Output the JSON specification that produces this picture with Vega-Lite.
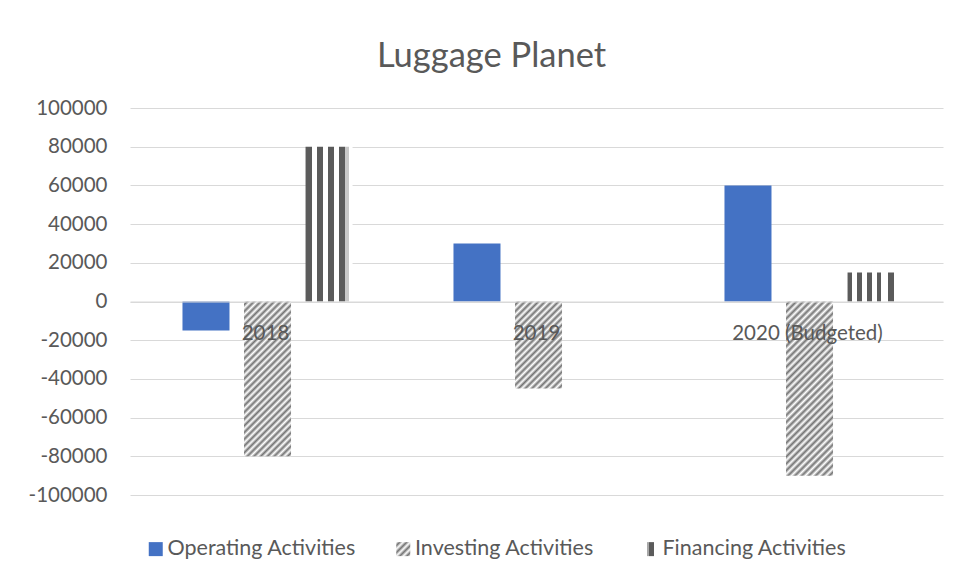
{
"$schema": "https://vega.github.io/schema/vega-lite/v6.json",
"width": 813, "height": 387,
"autosize": {"type": "none"},
"padding": {"left": 130, "top": 108, "right": 16, "bottom": 85},
"background": "#ffffff",
"config": {"view": {"stroke": null}, "font": "Lato"},
"title": {"text": "Luggage Planet", "fontSize": 34.5, "fontWeight": "normal", "color": "#595959", "font": "Lato", "anchor": "middle", "frame": "group", "dx": -45, "baseline": "alphabetic", "offset": -3},
"data": {"values": [
{"year": "2018", "series": "Operating Activities", "value": -15000},
{"year": "2018", "series": "Investing Activities", "value": -80000},
{"year": "2018", "series": "Financing Activities", "value": 80000},
{"year": "2019", "series": "Operating Activities", "value": 30000},
{"year": "2019", "series": "Investing Activities", "value": -45000},
{"year": "2019", "series": "Financing Activities", "value": 0},
{"year": "2020 (Budgeted)", "series": "Operating Activities", "value": 60000},
{"year": "2020 (Budgeted)", "series": "Investing Activities", "value": -90000},
{"year": "2020 (Budgeted)", "series": "Financing Activities", "value": 15000}
]},
"mark": {"type": "bar"},
"encoding": {
"x": {"field": "year", "type": "nominal", "sort": ["2018", "2019", "2020 (Budgeted)"], "scale": {"paddingInner": 0, "paddingOuter": 0},
 "axis": {"title": null, "orient": "bottom", "offset": -193.5, "labelAngle": 0, "ticks": false, "tickSize": 0, "domain": true, "domainColor": "#D9D9D9", "domainWidth": 1, "labelPadding": 38, "labelBaseline": "alphabetic", "labelFontSize": 20.5, "labelColor": "#595959", "labelLimit": 400, "labelOverlap": false, "labelFlush": false, "grid": false, "zindex": 1}},
"xOffset": {"field": "series", "type": "nominal", "sort": ["Operating Activities", "Investing Activities", "Financing Activities"], "scale": {"paddingInner": 0.236, "paddingOuter": 0.82, "align": 0.52}},
"y": {"field": "value", "type": "quantitative", "scale": {"domain": [-100000, 100000], "nice": false},
 "axis": {"title": null, "values": [-100000, -80000, -60000, -40000, -20000, 0, 20000, 40000, 60000, 80000, 100000], "labelExpr": "'' + datum.value", "ticks": false, "tickSize": 0, "domain": false, "labelPadding": 23, "labelFontSize": 20.5, "labelColor": "#595959", "gridColor": "#D9D9D9", "gridWidth": 1, "zindex": 0}},
"opacity": {"field": "series", "type": "nominal",
 "scale": {"domain": ["Operating Activities", "Investing Activities", "Financing Activities"], "range": [1, 1]},
 "legend": {"title": null, "orient": "none", "legendX": 15, "legendY": 430, "direction": "horizontal", "symbolType": "square", "symbolSize": 196, "symbolStrokeWidth": 0, "labelFontSize": 21.5, "labelColor": "#595959", "labelOffset": 1, "labelLimit": 500, "columnPadding": 36.5, "gridAlign": "all", "padding": 0,
  "encoding": {"symbols": {"stroke": {"value": "transparent"}, "opacity": {"value": 1}, "fill": {"condition": [
   {"test": "datum.value === 'Investing Activities'", "value": {"gradient": "linear", "x1": 0, "y1": 0, "x2": 1, "y2": 1, "stops": [
    {"offset": 0, "color": "#ffffff"}, {"offset": 0.125, "color": "#737373"}, {"offset": 0.25, "color": "#ffffff"}, {"offset": 0.375, "color": "#737373"}, {"offset": 0.5, "color": "#ffffff"}, {"offset": 0.625, "color": "#737373"}, {"offset": 0.75, "color": "#ffffff"}, {"offset": 0.875, "color": "#737373"}, {"offset": 1, "color": "#ffffff"}]}},
   {"test": "datum.value === 'Financing Activities'", "value": {"gradient": "linear", "x1": 0, "y1": 0, "x2": 1, "y2": 0, "stops": [
    {"offset": 0, "color": "#ffffff"}, {"offset": 0.2, "color": "#ffffff"}, {"offset": 0.2, "color": "#a8a8a8"}, {"offset": 0.36, "color": "#a8a8a8"}, {"offset": 0.36, "color": "#5b5b5b"}, {"offset": 0.72, "color": "#5b5b5b"}, {"offset": 0.72, "color": "#ffffff"}, {"offset": 1, "color": "#ffffff"}]}}],
   "value": "#4472C4"}}}}},
"fill": {
 "condition": [
  {"test": "datum.series === 'Investing Activities' && datum.year === '2018'", "value": {"gradient": "linear", "x1": 0, "y1": 0, "x2": 0.3624, "y2": 1.1937, "stops": [
   {"offset": 0, "color": "#ffffff"}, {"offset": 0.0167, "color": "#737373"}, {"offset": 0.0333, "color": "#ffffff"}, {"offset": 0.05, "color": "#737373"}, {"offset": 0.0667, "color": "#ffffff"}, {"offset": 0.0833, "color": "#737373"}, {"offset": 0.1, "color": "#ffffff"}, {"offset": 0.1167, "color": "#737373"}, {"offset": 0.1333, "color": "#ffffff"}, {"offset": 0.15, "color": "#737373"}, {"offset": 0.1667, "color": "#ffffff"}, {"offset": 0.1833, "color": "#737373"}, {"offset": 0.2, "color": "#ffffff"}, {"offset": 0.2167, "color": "#737373"}, {"offset": 0.2333, "color": "#ffffff"}, {"offset": 0.25, "color": "#737373"}, {"offset": 0.2667, "color": "#ffffff"}, {"offset": 0.2833, "color": "#737373"}, {"offset": 0.3, "color": "#ffffff"}, {"offset": 0.3167, "color": "#737373"}, {"offset": 0.3333, "color": "#ffffff"}, {"offset": 0.35, "color": "#737373"}, {"offset": 0.3667, "color": "#ffffff"}, {"offset": 0.3833, "color": "#737373"}, {"offset": 0.4, "color": "#ffffff"}, {"offset": 0.4167, "color": "#737373"}, {"offset": 0.4333, "color": "#ffffff"}, {"offset": 0.45, "color": "#737373"}, {"offset": 0.4667, "color": "#ffffff"}, {"offset": 0.4833, "color": "#737373"}, {"offset": 0.5, "color": "#ffffff"}, {"offset": 0.5167, "color": "#737373"}, {"offset": 0.5333, "color": "#ffffff"}, {"offset": 0.55, "color": "#737373"}, {"offset": 0.5667, "color": "#ffffff"}, {"offset": 0.5833, "color": "#737373"}, {"offset": 0.6, "color": "#ffffff"}, {"offset": 0.6167, "color": "#737373"}, {"offset": 0.6333, "color": "#ffffff"}, {"offset": 0.65, "color": "#737373"}, {"offset": 0.6667, "color": "#ffffff"}, {"offset": 0.6833, "color": "#737373"}, {"offset": 0.7, "color": "#ffffff"}, {"offset": 0.7167, "color": "#737373"}, {"offset": 0.7333, "color": "#ffffff"}, {"offset": 0.75, "color": "#737373"}, {"offset": 0.7667, "color": "#ffffff"}, {"offset": 0.7833, "color": "#737373"}, {"offset": 0.8, "color": "#ffffff"}, {"offset": 0.8167, "color": "#737373"}, {"offset": 0.8333, "color": "#ffffff"}, {"offset": 0.85, "color": "#737373"}, {"offset": 0.8667, "color": "#ffffff"}, {"offset": 0.8833, "color": "#737373"}, {"offset": 0.9, "color": "#ffffff"}, {"offset": 0.9167, "color": "#737373"}, {"offset": 0.9333, "color": "#ffffff"}, {"offset": 0.95, "color": "#737373"}, {"offset": 0.9667, "color": "#ffffff"}, {"offset": 0.9833, "color": "#737373"}, {"offset": 1, "color": "#ffffff"}]}},
  {"test": "datum.series === 'Investing Activities' && datum.year === '2019'", "value": {"gradient": "linear", "x1": 0, "y1": 0, "x2": 0.6435, "y2": 1.1924, "stops": [
   {"offset": 0, "color": "#ffffff"}, {"offset": 0.025, "color": "#737373"}, {"offset": 0.05, "color": "#ffffff"}, {"offset": 0.075, "color": "#737373"}, {"offset": 0.1, "color": "#ffffff"}, {"offset": 0.125, "color": "#737373"}, {"offset": 0.15, "color": "#ffffff"}, {"offset": 0.175, "color": "#737373"}, {"offset": 0.2, "color": "#ffffff"}, {"offset": 0.225, "color": "#737373"}, {"offset": 0.25, "color": "#ffffff"}, {"offset": 0.275, "color": "#737373"}, {"offset": 0.3, "color": "#ffffff"}, {"offset": 0.325, "color": "#737373"}, {"offset": 0.35, "color": "#ffffff"}, {"offset": 0.375, "color": "#737373"}, {"offset": 0.4, "color": "#ffffff"}, {"offset": 0.425, "color": "#737373"}, {"offset": 0.45, "color": "#ffffff"}, {"offset": 0.475, "color": "#737373"}, {"offset": 0.5, "color": "#ffffff"}, {"offset": 0.525, "color": "#737373"}, {"offset": 0.55, "color": "#ffffff"}, {"offset": 0.575, "color": "#737373"}, {"offset": 0.6, "color": "#ffffff"}, {"offset": 0.625, "color": "#737373"}, {"offset": 0.65, "color": "#ffffff"}, {"offset": 0.675, "color": "#737373"}, {"offset": 0.7, "color": "#ffffff"}, {"offset": 0.725, "color": "#737373"}, {"offset": 0.75, "color": "#ffffff"}, {"offset": 0.775, "color": "#737373"}, {"offset": 0.8, "color": "#ffffff"}, {"offset": 0.825, "color": "#737373"}, {"offset": 0.85, "color": "#ffffff"}, {"offset": 0.875, "color": "#737373"}, {"offset": 0.9, "color": "#ffffff"}, {"offset": 0.925, "color": "#737373"}, {"offset": 0.95, "color": "#ffffff"}, {"offset": 0.975, "color": "#737373"}, {"offset": 1, "color": "#ffffff"}]}},
  {"test": "datum.series === 'Investing Activities' && datum.year === '2020 (Budgeted)'", "value": {"gradient": "linear", "x1": 0, "y1": 0, "x2": 0.3194, "y2": 1.1834, "stops": [
   {"offset": 0, "color": "#ffffff"}, {"offset": 0.0156, "color": "#737373"}, {"offset": 0.0313, "color": "#ffffff"}, {"offset": 0.0469, "color": "#737373"}, {"offset": 0.0625, "color": "#ffffff"}, {"offset": 0.0781, "color": "#737373"}, {"offset": 0.0938, "color": "#ffffff"}, {"offset": 0.1094, "color": "#737373"}, {"offset": 0.125, "color": "#ffffff"}, {"offset": 0.1406, "color": "#737373"}, {"offset": 0.1563, "color": "#ffffff"}, {"offset": 0.1719, "color": "#737373"}, {"offset": 0.1875, "color": "#ffffff"}, {"offset": 0.2031, "color": "#737373"}, {"offset": 0.2188, "color": "#ffffff"}, {"offset": 0.2344, "color": "#737373"}, {"offset": 0.25, "color": "#ffffff"}, {"offset": 0.2656, "color": "#737373"}, {"offset": 0.2813, "color": "#ffffff"}, {"offset": 0.2969, "color": "#737373"}, {"offset": 0.3125, "color": "#ffffff"}, {"offset": 0.3281, "color": "#737373"}, {"offset": 0.3438, "color": "#ffffff"}, {"offset": 0.3594, "color": "#737373"}, {"offset": 0.375, "color": "#ffffff"}, {"offset": 0.3906, "color": "#737373"}, {"offset": 0.4063, "color": "#ffffff"}, {"offset": 0.4219, "color": "#737373"}, {"offset": 0.4375, "color": "#ffffff"}, {"offset": 0.4531, "color": "#737373"}, {"offset": 0.4688, "color": "#ffffff"}, {"offset": 0.4844, "color": "#737373"}, {"offset": 0.5, "color": "#ffffff"}, {"offset": 0.5156, "color": "#737373"}, {"offset": 0.5313, "color": "#ffffff"}, {"offset": 0.5469, "color": "#737373"}, {"offset": 0.5625, "color": "#ffffff"}, {"offset": 0.5781, "color": "#737373"}, {"offset": 0.5938, "color": "#ffffff"}, {"offset": 0.6094, "color": "#737373"}, {"offset": 0.625, "color": "#ffffff"}, {"offset": 0.6406, "color": "#737373"}, {"offset": 0.6563, "color": "#ffffff"}, {"offset": 0.6719, "color": "#737373"}, {"offset": 0.6875, "color": "#ffffff"}, {"offset": 0.7031, "color": "#737373"}, {"offset": 0.7188, "color": "#ffffff"}, {"offset": 0.7344, "color": "#737373"}, {"offset": 0.75, "color": "#ffffff"}, {"offset": 0.7656, "color": "#737373"}, {"offset": 0.7813, "color": "#ffffff"}, {"offset": 0.7969, "color": "#737373"}, {"offset": 0.8125, "color": "#ffffff"}, {"offset": 0.8281, "color": "#737373"}, {"offset": 0.8438, "color": "#ffffff"}, {"offset": 0.8594, "color": "#737373"}, {"offset": 0.875, "color": "#ffffff"}, {"offset": 0.8906, "color": "#737373"}, {"offset": 0.9063, "color": "#ffffff"}, {"offset": 0.9219, "color": "#737373"}, {"offset": 0.9375, "color": "#ffffff"}, {"offset": 0.9531, "color": "#737373"}, {"offset": 0.9688, "color": "#ffffff"}, {"offset": 0.9844, "color": "#737373"}, {"offset": 1, "color": "#ffffff"}]}},
  {"test": "datum.series === 'Financing Activities' && datum.year === '2018'", "value": {"gradient": "linear", "x1": 0, "y1": 0, "x2": 1, "y2": 0, "stops": [
   {"offset": 0, "color": "#5b5b5b"}, {"offset": 0.135, "color": "#5b5b5b"}, {"offset": 0.135, "color": "#ffffff"}, {"offset": 0.24, "color": "#ffffff"}, {"offset": 0.24, "color": "#5b5b5b"}, {"offset": 0.37, "color": "#5b5b5b"}, {"offset": 0.37, "color": "#ffffff"}, {"offset": 0.475, "color": "#ffffff"}, {"offset": 0.475, "color": "#5b5b5b"}, {"offset": 0.6, "color": "#5b5b5b"}, {"offset": 0.6, "color": "#ffffff"}, {"offset": 0.71, "color": "#ffffff"}, {"offset": 0.71, "color": "#5b5b5b"}, {"offset": 0.835, "color": "#5b5b5b"}, {"offset": 0.835, "color": "#c8c8c8"}, {"offset": 0.93, "color": "#c8c8c8"}, {"offset": 0.93, "color": "#ffffff"}, {"offset": 1, "color": "#ffffff"}]}},
  {"test": "datum.series === 'Financing Activities'", "value": {"gradient": "linear", "x1": 0, "y1": 0, "x2": 1, "y2": 0, "stops": [
   {"offset": 0, "color": "#5b5b5b"}, {"offset": 0.09, "color": "#5b5b5b"}, {"offset": 0.09, "color": "#ffffff"}, {"offset": 0.21, "color": "#ffffff"}, {"offset": 0.21, "color": "#5b5b5b"}, {"offset": 0.3, "color": "#5b5b5b"}, {"offset": 0.3, "color": "#ffffff"}, {"offset": 0.42, "color": "#ffffff"}, {"offset": 0.42, "color": "#5b5b5b"}, {"offset": 0.51, "color": "#5b5b5b"}, {"offset": 0.51, "color": "#ffffff"}, {"offset": 0.63, "color": "#ffffff"}, {"offset": 0.63, "color": "#5b5b5b"}, {"offset": 0.72, "color": "#5b5b5b"}, {"offset": 0.72, "color": "#ffffff"}, {"offset": 0.86, "color": "#ffffff"}, {"offset": 0.86, "color": "#5b5b5b"}, {"offset": 0.99, "color": "#5b5b5b"}, {"offset": 0.99, "color": "#ffffff"}, {"offset": 1, "color": "#ffffff"}]}}
 ],
 "value": "#4472C4"}
}
}
